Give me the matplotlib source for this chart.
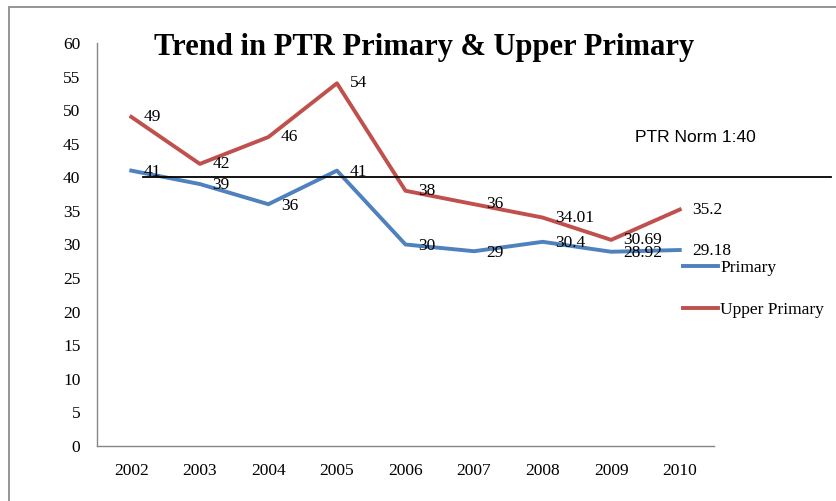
import matplotlib
matplotlib.use("Agg")
import matplotlib.pyplot as plt
from matplotlib.patches import Rectangle

years = ['2002', '2003', '2004', '2005', '2006', '2007', '2008', '2009', '2010']
primary = [41, 39, 36, 41, 30, 29, 30.4, 28.92, 29.18]
upper_primary = [49, 42, 46, 54, 38, 36, 34.01, 30.69, 35.2]
primary_lbl = ['41', '39', '36', '41', '30', '29', '30.4', '28.92', '29.18']
upper_lbl = ['49', '42', '46', '54', '38', '36', '34.01', '30.69', '35.2']
norm = 40

blue = '#4F81BD'
red = '#C0504D'
serif = 'Liberation Serif'

W, H = 836, 501
fig = plt.figure(figsize=(W / 100, H / 100), dpi=100)
ax = fig.add_axes([97 / W, (H - 446) / H, (714 - 97) / W, (446 - 43) / H])

# marco gris del grafico
fig.patches.append(Rectangle((9 / W, -0.1), 1.2, (H - 7) / H + 0.1, transform=fig.transFigure,
                             fill=False, edgecolor='#8c8c8c', linewidth=1.3))

x = list(range(len(years)))
ax.plot(x, primary, color=blue, lw=2.8, label='Primary')
ax.plot(x, upper_primary, color=red, lw=2.8, label='Upper Primary')

# etiquetas de datos
for i in x:
    ax.annotate(primary_lbl[i], (i, primary[i]), xytext=(9, -1), textcoords='offset points',
                ha='left', va='center', fontsize=12.5, family=serif)
    ax.annotate(upper_lbl[i], (i, upper_primary[i]), xytext=(9, 0), textcoords='offset points',
                ha='left', va='center', fontsize=12.5, family=serif)

# linea de norma PTR 1:40
ax.plot([0.17, 10.2], [norm, norm], color='black', lw=1.3, clip_on=False)
fig.text(695 / W, 1 - 137 / H, 'PTR Norm 1:40', family='Liberation Sans', fontsize=12.5,
         ha='center', va='center')

ax.set_xlim(-0.5, 8.5)
ax.set_ylim(0, 60)
ax.set_yticks(range(0, 61, 5))
ax.set_xticks(x)
ax.set_xticklabels(years)
for lab in ax.get_xticklabels() + ax.get_yticklabels():
    lab.set_family(serif)
    lab.set_fontsize(12.5)
ax.tick_params(length=0)
ax.tick_params(axis='y', pad=12)
ax.tick_params(axis='x', pad=12)
for s in ['top', 'right']:
    ax.spines[s].set_visible(False)
for s in ['left', 'bottom']:
    ax.spines[s].set_color('#868686')
    ax.spines[s].set_linewidth(1.0)

fig.text(424 / W, 1 - 48 / H, 'Trend in PTR Primary & Upper Primary', family=serif,
         fontweight='bold', fontsize=22, ha='center', va='center')

ax.legend(loc='upper left', bbox_to_anchor=(683 / W, 1 - 260 / H), bbox_transform=fig.transFigure,
          frameon=False, handlelength=2.0, handletextpad=0.15, labelspacing=1.5,
          prop={'family': serif, 'size': 12.5}, borderaxespad=0, borderpad=0)

plt.savefig('out.png', dpi=100)
